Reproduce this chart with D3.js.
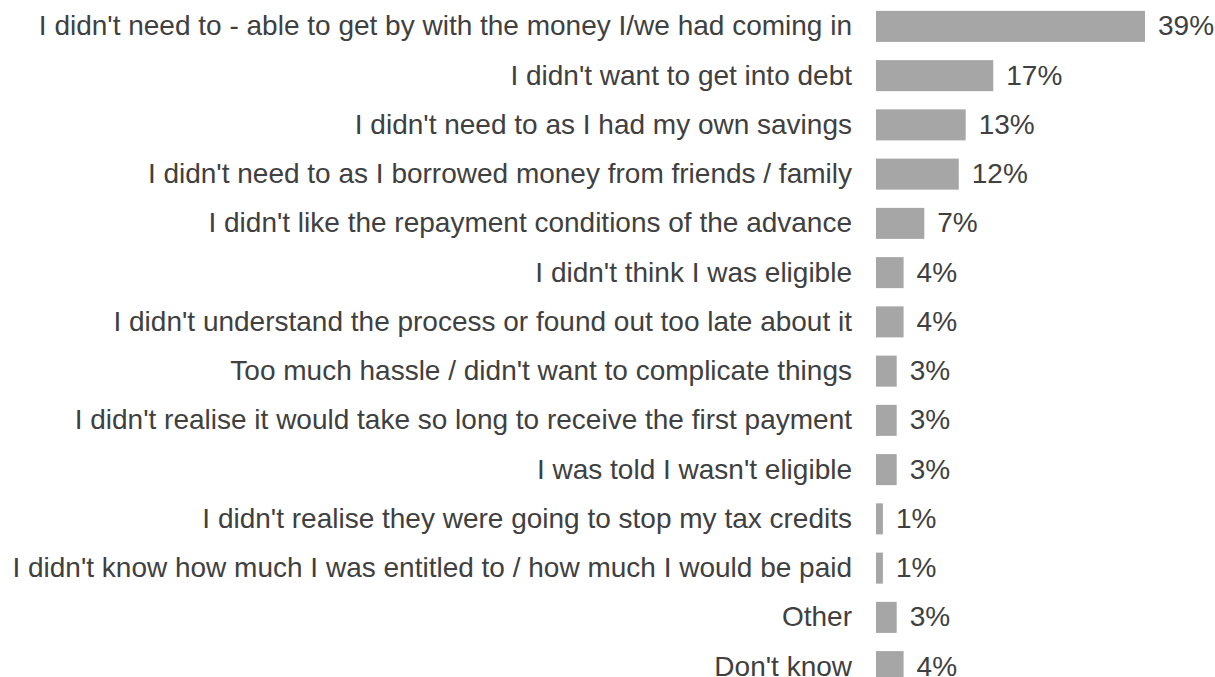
<!DOCTYPE html>
<html>
<head>
<meta charset="utf-8">
<script src="https://cdn.jsdelivr.net/npm/d3@7"></script>
<style>
  html, body { margin: 0; padding: 0; background: #ffffff; overflow: hidden; }
  svg { display: block; }
</style>
</head>
<body>
<svg id="chart" width="1215" height="677"></svg>
<script>
// Reasons for not taking an advance payment (share of respondents)
const categories = [
  "I didn't need to - able to get by with the money I/we had coming in",
  "I didn't want to get into debt",
  "I didn't need to as I had my own savings",
  "I didn't need to as I borrowed money from friends / family",
  "I didn't like the repayment conditions of the advance",
  "I didn't think I was eligible",
  "I didn't understand the process or found out too late about it",
  "Too much hassle / didn't want to complicate things",
  "I didn't realise it would take so long to receive the first payment",
  "I was told I wasn't eligible",
  "I didn't realise they were going to stop my tax credits",
  "I didn't know how much I was entitled to / how much I would be paid",
  "Other",
  "Don't know"
];
const values = [39, 17, 13, 12, 7, 4, 4, 3, 3, 3, 1, 1, 3, 4];
const valueLabels = values.map(v => v + "%");

const svg = d3.select("#chart");
const barLeft = 876;
const labelRight = 852;
const fontFamily = "Liberation Sans, Arial, sans-serif";
const fontSize = 28;

const x = d3.scaleLinear().domain([0, 39]).range([barLeft, 1145]);
const y = d3.scaleBand()
  .domain(categories)
  .range([2, 691])
  .paddingInner(0.37)
  .paddingOuter(0.18);

const rows = svg.selectAll("g.row")
  .data(categories.map((c, i) => ({ c, v: values[i], t: valueLabels[i] })))
  .join("g")
  .attr("class", "row");

rows.append("rect")
  .attr("x", x(0))
  .attr("y", d => y(d.c))
  .attr("width", d => x(d.v) - x(0))
  .attr("height", y.bandwidth())
  .attr("fill", "#a6a6a6");

rows.append("text")
  .attr("x", labelRight)
  .attr("y", d => y(d.c) + y.bandwidth() / 2)
  .attr("dy", "0.32em")
  .attr("text-anchor", "end")
  .attr("font-family", fontFamily)
  .attr("font-size", fontSize)
  .attr("fill", "#404040")
  .text(d => d.c);

rows.append("text")
  .attr("x", d => x(d.v) + 13)
  .attr("y", d => y(d.c) + y.bandwidth() / 2)
  .attr("dy", "0.32em")
  .attr("font-family", fontFamily)
  .attr("font-size", fontSize)
  .attr("fill", "#404040")
  .text(d => d.t);
</script>
</body>
</html>
